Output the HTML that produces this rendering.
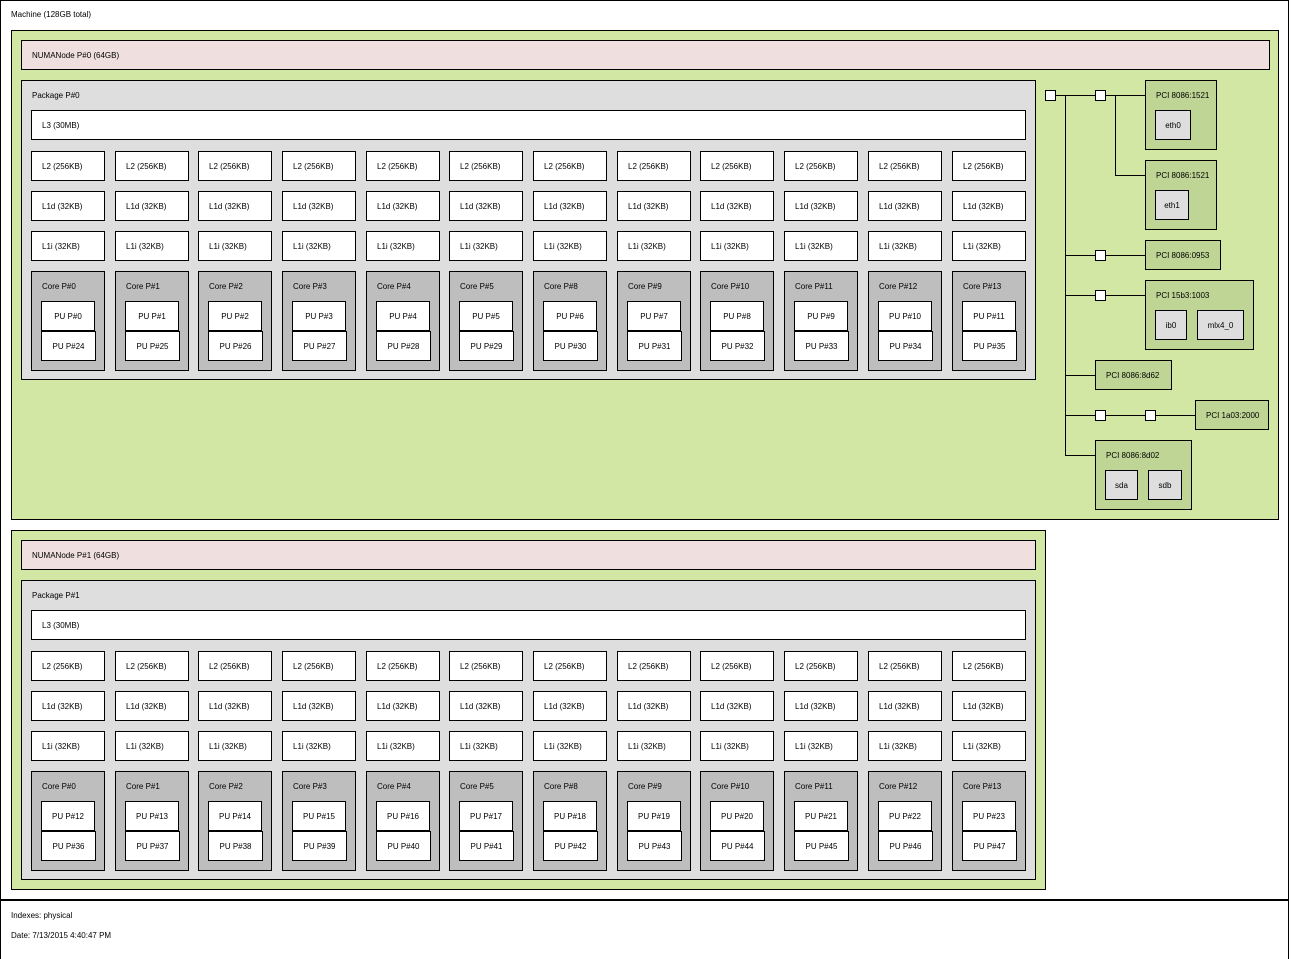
<!DOCTYPE html>
<html><head><meta charset="utf-8"><style>
body{margin:0;width:1291px;height:949px;background:#fff;position:relative;overflow:hidden;font-family:"Liberation Sans",sans-serif;font-size:8px;color:#000}
div{position:absolute;box-sizing:border-box}
.b{border:1px solid #000}
.t{padding:10px 0 0 10px;line-height:10px;white-space:nowrap}
.c{text-align:center;line-height:29px;white-space:nowrap}
.w{background:#fff}
.g{background:#d2e7a4}
.p{background:#efdfde}
.k{background:#dedede}
.r{background:#bebebe}
.pc{background:#bed595}
.o{background:#dedede}
.col{width:74px;height:290px;top:70px}
.col>.b{width:74px}
.l2{top:0;height:30px}.l1d{top:40px;height:30px}.l1i{top:80px;height:30px}
.core{top:120px;height:100px}
.pu1{left:9px;top:29px;width:54px;height:30px}
.pu2{left:9px;top:59px;width:55px;height:30px}
.sq{width:11px;height:11px;background:#fff;border:1px solid #000}
.h{height:1px;background:#000}.v{width:1px;background:#000}
</style></head><body>
<div class="b" style="left:0;top:0;width:1289px;height:901px;border-width:1px 1px 2px 1px"></div>
<div style="left:0;top:899px;width:1289px;height:60px;border-left:1px solid #000;border-right:1px solid #000"></div>
<div style="left:11px;top:9px;line-height:12px">Machine (128GB total)</div>
<div style="left:11px;top:910px;line-height:12px">Indexes: physical</div>
<div style="left:11px;top:930px;line-height:12px">Date: 7/13/2015 4:40:47 PM</div>

<!-- NUMA 0 -->
<div class="b g" style="left:11px;top:30px;width:1268px;height:490px">
<div class="b p t" style="left:9px;top:9px;width:1249px;height:30px">NUMANode P#0 (64GB)</div>
<div class="b k" style="left:9px;top:49px;width:1015px;height:300px">
<div class="t" style="left:0;top:0">Package P#0</div>
<div class="b w t" style="left:9px;top:29px;width:995px;height:30px">L3 (30MB)</div>
<div class="col" style="left:9px"><div class="b w t l2">L2 (256KB)</div><div class="b w t l1d">L1d (32KB)</div><div class="b w t l1i">L1i (32KB)</div><div class="b r t core">Core P#0<div class="b w c pu1">PU P#0</div><div class="b w c pu2">PU P#24</div></div></div>
<div class="col" style="left:93px"><div class="b w t l2">L2 (256KB)</div><div class="b w t l1d">L1d (32KB)</div><div class="b w t l1i">L1i (32KB)</div><div class="b r t core">Core P#1<div class="b w c pu1">PU P#1</div><div class="b w c pu2">PU P#25</div></div></div>
<div class="col" style="left:176px"><div class="b w t l2">L2 (256KB)</div><div class="b w t l1d">L1d (32KB)</div><div class="b w t l1i">L1i (32KB)</div><div class="b r t core">Core P#2<div class="b w c pu1">PU P#2</div><div class="b w c pu2">PU P#26</div></div></div>
<div class="col" style="left:260px"><div class="b w t l2">L2 (256KB)</div><div class="b w t l1d">L1d (32KB)</div><div class="b w t l1i">L1i (32KB)</div><div class="b r t core">Core P#3<div class="b w c pu1">PU P#3</div><div class="b w c pu2">PU P#27</div></div></div>
<div class="col" style="left:344px"><div class="b w t l2">L2 (256KB)</div><div class="b w t l1d">L1d (32KB)</div><div class="b w t l1i">L1i (32KB)</div><div class="b r t core">Core P#4<div class="b w c pu1">PU P#4</div><div class="b w c pu2">PU P#28</div></div></div>
<div class="col" style="left:427px"><div class="b w t l2">L2 (256KB)</div><div class="b w t l1d">L1d (32KB)</div><div class="b w t l1i">L1i (32KB)</div><div class="b r t core">Core P#5<div class="b w c pu1">PU P#5</div><div class="b w c pu2">PU P#29</div></div></div>
<div class="col" style="left:511px"><div class="b w t l2">L2 (256KB)</div><div class="b w t l1d">L1d (32KB)</div><div class="b w t l1i">L1i (32KB)</div><div class="b r t core">Core P#8<div class="b w c pu1">PU P#6</div><div class="b w c pu2">PU P#30</div></div></div>
<div class="col" style="left:595px"><div class="b w t l2">L2 (256KB)</div><div class="b w t l1d">L1d (32KB)</div><div class="b w t l1i">L1i (32KB)</div><div class="b r t core">Core P#9<div class="b w c pu1">PU P#7</div><div class="b w c pu2">PU P#31</div></div></div>
<div class="col" style="left:678px"><div class="b w t l2">L2 (256KB)</div><div class="b w t l1d">L1d (32KB)</div><div class="b w t l1i">L1i (32KB)</div><div class="b r t core">Core P#10<div class="b w c pu1">PU P#8</div><div class="b w c pu2">PU P#32</div></div></div>
<div class="col" style="left:762px"><div class="b w t l2">L2 (256KB)</div><div class="b w t l1d">L1d (32KB)</div><div class="b w t l1i">L1i (32KB)</div><div class="b r t core">Core P#11<div class="b w c pu1">PU P#9</div><div class="b w c pu2">PU P#33</div></div></div>
<div class="col" style="left:846px"><div class="b w t l2">L2 (256KB)</div><div class="b w t l1d">L1d (32KB)</div><div class="b w t l1i">L1i (32KB)</div><div class="b r t core">Core P#12<div class="b w c pu1">PU P#10</div><div class="b w c pu2">PU P#34</div></div></div>
<div class="col" style="left:930px"><div class="b w t l2">L2 (256KB)</div><div class="b w t l1d">L1d (32KB)</div><div class="b w t l1i">L1i (32KB)</div><div class="b r t core">Core P#13<div class="b w c pu1">PU P#11</div><div class="b w c pu2">PU P#35</div></div></div>
</div>
</div>

<!-- PCI tree (page coords) -->
<div class="h" style="left:1055px;top:95px;width:90px"></div>
<div class="v" style="left:1065px;top:95px;height:361px"></div>
<div class="v" style="left:1115px;top:95px;height:81px"></div>
<div class="h" style="left:1115px;top:175px;width:30px"></div>
<div class="h" style="left:1065px;top:255px;width:80px"></div>
<div class="h" style="left:1065px;top:295px;width:80px"></div>
<div class="h" style="left:1065px;top:375px;width:30px"></div>
<div class="h" style="left:1065px;top:415px;width:130px"></div>
<div class="h" style="left:1065px;top:455px;width:30px"></div>
<div class="sq" style="left:1045px;top:90px"></div>
<div class="sq" style="left:1095px;top:90px"></div>
<div class="sq" style="left:1095px;top:250px"></div>
<div class="sq" style="left:1095px;top:290px"></div>
<div class="sq" style="left:1095px;top:410px"></div>
<div class="sq" style="left:1145px;top:410px"></div>
<div class="b pc t" style="left:1145px;top:80px;width:72px;height:70px">PCI 8086:1521<div class="b o c" style="left:9px;top:29px;width:36px;height:30px">eth0</div></div>
<div class="b pc t" style="left:1145px;top:160px;width:72px;height:70px">PCI 8086:1521<div class="b o c" style="left:9px;top:29px;width:34px;height:30px">eth1</div></div>
<div class="b pc t" style="left:1145px;top:240px;width:76px;height:30px">PCI 8086:0953</div>
<div class="b pc t" style="left:1145px;top:280px;width:109px;height:70px">PCI 15b3:1003<div class="b o c" style="left:9px;top:29px;width:32px;height:30px">ib0</div><div class="b o c" style="left:51px;top:29px;width:47px;height:30px">mlx4_0</div></div>
<div class="b pc t" style="left:1095px;top:360px;width:77px;height:30px">PCI 8086:8d62</div>
<div class="b pc t" style="left:1195px;top:400px;width:74px;height:30px">PCI 1a03:2000</div>
<div class="b pc t" style="left:1095px;top:440px;width:97px;height:70px">PCI 8086:8d02<div class="b o c" style="left:9px;top:29px;width:33px;height:30px">sda</div><div class="b o c" style="left:52px;top:29px;width:34px;height:30px">sdb</div></div>

<!-- NUMA 1 -->
<div class="b g" style="left:11px;top:530px;width:1035px;height:360px">
<div class="b p t" style="left:9px;top:9px;width:1015px;height:30px">NUMANode P#1 (64GB)</div>
<div class="b k" style="left:9px;top:49px;width:1015px;height:300px">
<div class="t" style="left:0;top:0">Package P#1</div>
<div class="b w t" style="left:9px;top:29px;width:995px;height:30px">L3 (30MB)</div>
<div class="col" style="left:9px"><div class="b w t l2">L2 (256KB)</div><div class="b w t l1d">L1d (32KB)</div><div class="b w t l1i">L1i (32KB)</div><div class="b r t core">Core P#0<div class="b w c pu1">PU P#12</div><div class="b w c pu2">PU P#36</div></div></div>
<div class="col" style="left:93px"><div class="b w t l2">L2 (256KB)</div><div class="b w t l1d">L1d (32KB)</div><div class="b w t l1i">L1i (32KB)</div><div class="b r t core">Core P#1<div class="b w c pu1">PU P#13</div><div class="b w c pu2">PU P#37</div></div></div>
<div class="col" style="left:176px"><div class="b w t l2">L2 (256KB)</div><div class="b w t l1d">L1d (32KB)</div><div class="b w t l1i">L1i (32KB)</div><div class="b r t core">Core P#2<div class="b w c pu1">PU P#14</div><div class="b w c pu2">PU P#38</div></div></div>
<div class="col" style="left:260px"><div class="b w t l2">L2 (256KB)</div><div class="b w t l1d">L1d (32KB)</div><div class="b w t l1i">L1i (32KB)</div><div class="b r t core">Core P#3<div class="b w c pu1">PU P#15</div><div class="b w c pu2">PU P#39</div></div></div>
<div class="col" style="left:344px"><div class="b w t l2">L2 (256KB)</div><div class="b w t l1d">L1d (32KB)</div><div class="b w t l1i">L1i (32KB)</div><div class="b r t core">Core P#4<div class="b w c pu1">PU P#16</div><div class="b w c pu2">PU P#40</div></div></div>
<div class="col" style="left:427px"><div class="b w t l2">L2 (256KB)</div><div class="b w t l1d">L1d (32KB)</div><div class="b w t l1i">L1i (32KB)</div><div class="b r t core">Core P#5<div class="b w c pu1">PU P#17</div><div class="b w c pu2">PU P#41</div></div></div>
<div class="col" style="left:511px"><div class="b w t l2">L2 (256KB)</div><div class="b w t l1d">L1d (32KB)</div><div class="b w t l1i">L1i (32KB)</div><div class="b r t core">Core P#8<div class="b w c pu1">PU P#18</div><div class="b w c pu2">PU P#42</div></div></div>
<div class="col" style="left:595px"><div class="b w t l2">L2 (256KB)</div><div class="b w t l1d">L1d (32KB)</div><div class="b w t l1i">L1i (32KB)</div><div class="b r t core">Core P#9<div class="b w c pu1">PU P#19</div><div class="b w c pu2">PU P#43</div></div></div>
<div class="col" style="left:678px"><div class="b w t l2">L2 (256KB)</div><div class="b w t l1d">L1d (32KB)</div><div class="b w t l1i">L1i (32KB)</div><div class="b r t core">Core P#10<div class="b w c pu1">PU P#20</div><div class="b w c pu2">PU P#44</div></div></div>
<div class="col" style="left:762px"><div class="b w t l2">L2 (256KB)</div><div class="b w t l1d">L1d (32KB)</div><div class="b w t l1i">L1i (32KB)</div><div class="b r t core">Core P#11<div class="b w c pu1">PU P#21</div><div class="b w c pu2">PU P#45</div></div></div>
<div class="col" style="left:846px"><div class="b w t l2">L2 (256KB)</div><div class="b w t l1d">L1d (32KB)</div><div class="b w t l1i">L1i (32KB)</div><div class="b r t core">Core P#12<div class="b w c pu1">PU P#22</div><div class="b w c pu2">PU P#46</div></div></div>
<div class="col" style="left:930px"><div class="b w t l2">L2 (256KB)</div><div class="b w t l1d">L1d (32KB)</div><div class="b w t l1i">L1i (32KB)</div><div class="b r t core">Core P#13<div class="b w c pu1">PU P#23</div><div class="b w c pu2">PU P#47</div></div></div>
</div>
</div>
</body></html>
